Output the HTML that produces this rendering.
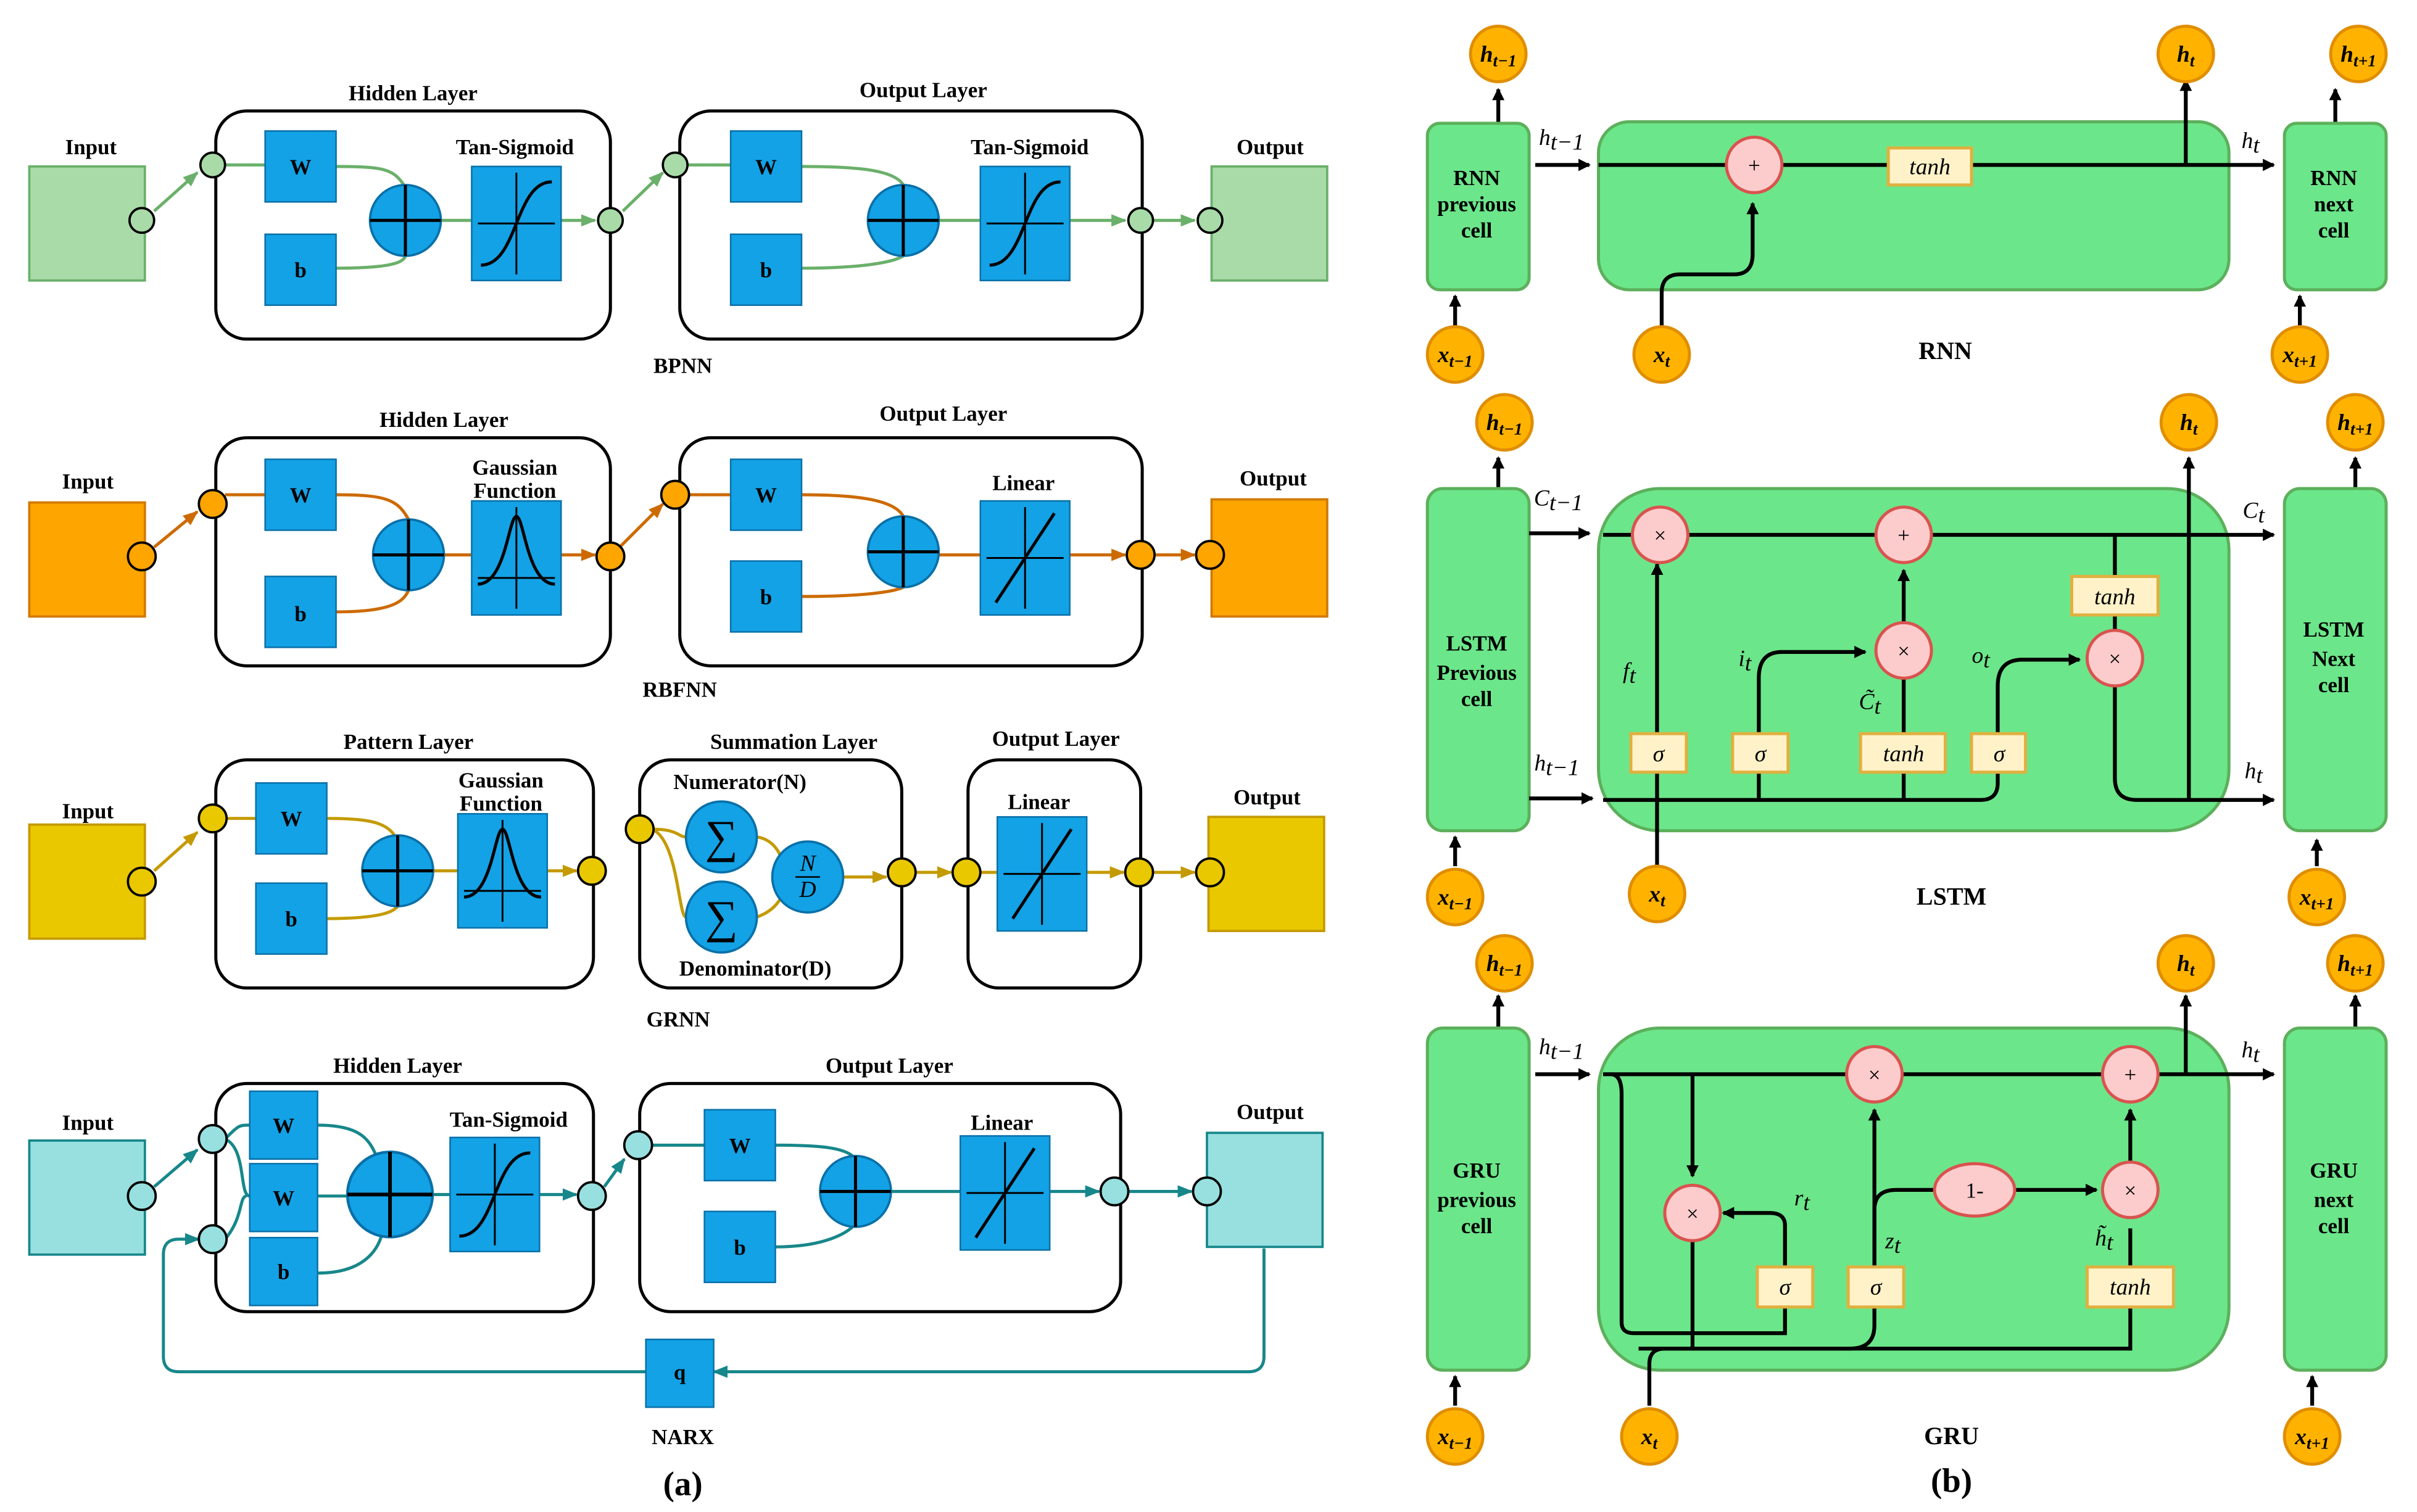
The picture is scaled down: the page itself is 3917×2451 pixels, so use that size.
<!DOCTYPE html>
<html><head><meta charset="utf-8"><style>
html,body{margin:0;padding:0;background:#fff;}
svg{display:block;}
text{font-family:"Liberation Serif",serif;}
.b{font-weight:bold;font-size:14px;text-anchor:middle;}
.m{font-style:italic;font-size:15px;text-anchor:middle;}
.c{font-style:italic;font-weight:bold;font-size:15px;text-anchor:middle;}
.s{font-size:11px;}
</style></head><body>
<svg width="3917" height="2451" viewBox="0 0 1568 981" preserveAspectRatio="none" xmlns="http://www.w3.org/2000/svg">
<defs>
<marker id="k" markerWidth="8" markerHeight="8" refX="7" refY="4" orient="auto" markerUnits="userSpaceOnUse"><path d="M0,0 L8,4 L0,8 z" fill="#000"/></marker>
<marker id="g" markerWidth="10" markerHeight="8" refX="9" refY="4" orient="auto" markerUnits="userSpaceOnUse"><path d="M0,0 L10,4 L0,8 z" fill="#6ab06a"/></marker>
<marker id="o" markerWidth="10" markerHeight="8" refX="9" refY="4" orient="auto" markerUnits="userSpaceOnUse"><path d="M0,0 L10,4 L0,8 z" fill="#cc6a00"/></marker>
<marker id="y" markerWidth="10" markerHeight="8" refX="9" refY="4" orient="auto" markerUnits="userSpaceOnUse"><path d="M0,0 L10,4 L0,8 z" fill="#c49a00"/></marker>
<marker id="t" markerWidth="10" markerHeight="8" refX="9" refY="4" orient="auto" markerUnits="userSpaceOnUse"><path d="M0,0 L10,4 L0,8 z" fill="#17878a"/></marker>
<g id="sig"><rect x="0" y="0" width="58" height="74" fill="#13a2e6" stroke="#0a70a8"/><path d="M29,4V70M4,37H54" stroke="#000" stroke-width="1.2"/><path d="M6,64 C30,64 28,10 52,10" fill="none" stroke="#000" stroke-width="2"/></g>
<g id="gau"><rect x="0" y="0" width="58" height="74" fill="#13a2e6" stroke="#0a70a8"/><path d="M29,4V70M4,50H54" stroke="#000" stroke-width="1.2"/><path d="M4,54 C22,54 24,10 29,10 C34,10 36,54 54,54" fill="none" stroke="#000" stroke-width="2"/></g>
<g id="lin"><rect x="0" y="0" width="58" height="74" fill="#13a2e6" stroke="#0a70a8"/><path d="M29,4V70M4,37H54" stroke="#000" stroke-width="1.2"/><path d="M10,66 L48,8" fill="none" stroke="#000" stroke-width="2"/></g>
<g id="sum"><circle r="23" fill="#13a2e6" stroke="#0a70a8" stroke-width="1.5"/><path d="M-23,0H23M0,-23V23" stroke="#000" stroke-width="2"/></g>
<rect id="sq" width="46" height="46" fill="#13a2e6" stroke="#0a70a8"/>
</defs>

<!-- ================= BPNN ================= -->
<g fill="none" stroke="#6ab06a" stroke-width="2">
<path d="M100,137 L128,112" marker-end="url(#g)"/>
<path d="M146,107 H218 M218,108 C250,108 255,110 262,120"/>
<path d="M218,174 C255,174 262,170 263,166"/>
<path d="M286,143 H306 M364,143 H386" marker-end="url(#g)"/>
<path d="M404,137 L430,112" marker-end="url(#g)"/>
<path d="M446,107 H474 M520,108 C555,108 580,110 586,120"/>
<path d="M520,174 C560,174 580,170 586,166"/>
<path d="M609,143 H636 M694,143 H730" marker-end="url(#g)"/>
<path d="M748,143 H775" marker-end="url(#g)"/>
</g>
<rect x="19" y="108" width="75" height="74" fill="#a8dba8" stroke="#6ab06a" stroke-width="1.5"/>
<rect x="140" y="72" width="256" height="148" rx="20" fill="none" stroke="#000" stroke-width="2"/>
<rect x="441" y="72" width="300" height="148" rx="20" fill="none" stroke="#000" stroke-width="2"/>
<use href="#sq" x="172" y="85"/><use href="#sq" x="172" y="152"/>
<use href="#sum" x="263" y="143"/><use href="#sig" x="306" y="108"/>
<use href="#sq" x="474" y="85"/><use href="#sq" x="474" y="152"/>
<use href="#sum" x="586" y="143"/><use href="#sig" x="636" y="108"/>
<rect x="786" y="108" width="75" height="74" fill="#a8dba8" stroke="#6ab06a" stroke-width="1.5"/>
<g fill="#a8dba8" stroke="#000" stroke-width="1.5"><circle cx="92" cy="143" r="8"/><circle cx="138" cy="107" r="8"/><circle cx="396" cy="143" r="8"/><circle cx="438" cy="107" r="8"/><circle cx="740" cy="143" r="8"/><circle cx="785" cy="143" r="8"/></g>
<g class="b"><text x="59" y="100">Input</text><text x="268" y="65">Hidden Layer</text><text x="599" y="63">Output Layer</text><text x="334" y="100">Tan-Sigmoid</text><text x="668" y="100">Tan-Sigmoid</text><text x="824" y="100">Output</text><text x="195" y="113">W</text><text x="195" y="180">b</text><text x="497" y="113">W</text><text x="497" y="180">b</text><text x="443" y="242">BPNN</text></g>

<!-- ================= RBFNN ================= -->
<g fill="none" stroke="#cc6a00" stroke-width="2">
<path d="M100,355 L128,332" marker-end="url(#o)"/>
<path d="M146,321 H172 M218,321 C250,321 258,324 265,337"/>
<path d="M218,397 C255,397 262,390 265,383"/>
<path d="M288,360 H306 M364,360 H386" marker-end="url(#o)"/>
<path d="M402,355 L430,327" marker-end="url(#o)"/>
<path d="M446,321 H474 M520,321 C555,321 580,324 586,335"/>
<path d="M520,387 C560,387 580,384 586,381"/>
<path d="M609,360 H636 M694,360 H730" marker-end="url(#o)"/>
<path d="M748,360 H775" marker-end="url(#o)"/>
</g>
<rect x="19" y="326" width="75" height="74" fill="#ffa500" stroke="#d07a00" stroke-width="1.5"/>
<rect x="140" y="284" width="256" height="148" rx="20" fill="none" stroke="#000" stroke-width="2"/>
<rect x="441" y="284" width="300" height="148" rx="20" fill="none" stroke="#000" stroke-width="2"/>
<use href="#sq" x="172" y="298"/><use href="#sq" x="172" y="374"/>
<use href="#sum" x="265" y="360"/><use href="#gau" x="306" y="325"/>
<use href="#sq" x="474" y="298"/><use href="#sq" x="474" y="364"/>
<use href="#sum" x="586" y="358"/><use href="#lin" x="636" y="325"/>
<rect x="786" y="324" width="75" height="76" fill="#ffa500" stroke="#d07a00" stroke-width="1.5"/>
<g fill="#ffa500" stroke="#000" stroke-width="1.5"><circle cx="92" cy="361" r="9"/><circle cx="138" cy="327" r="9"/><circle cx="396" cy="361" r="9"/><circle cx="438" cy="321" r="9"/><circle cx="740" cy="360" r="9"/><circle cx="785" cy="360" r="9"/></g>
<g class="b"><text x="57" y="317">Input</text><text x="288" y="277">Hidden Layer</text><text x="612" y="273">Output Layer</text><text x="334" y="308">Gaussian</text><text x="334" y="323">Function</text><text x="664" y="318">Linear</text><text x="826" y="315">Output</text><text x="195" y="326">W</text><text x="195" y="403">b</text><text x="497" y="326">W</text><text x="497" y="392">b</text><text x="441" y="452">RBFNN</text></g>

<!-- ================= GRNN ================= -->
<g fill="none" stroke="#c49a00" stroke-width="2">
<path d="M100,565 L128,540" marker-end="url(#y)"/>
<path d="M146,531 H166 M212,531 C245,531 252,535 258,545"/>
<path d="M212,596 C245,596 255,592 258,588"/>
<path d="M281,565 H297 M353,565 H374" marker-end="url(#y)"/>
<path d="M423,538 C440,538 440,543 445,543 M423,538 C440,545 440,595 445,595"/>
<path d="M491,543 C505,545 508,560 508,560 M491,595 C505,590 508,580 508,578"/>
<path d="M547,569 H575" marker-end="url(#y)"/>
<path d="M593,566 H617" marker-end="url(#y)"/>
<path d="M635,566 H647 M703,566 H729" marker-end="url(#y)"/>
<path d="M747,566 H775" marker-end="url(#y)"/>
</g>
<rect x="19" y="535" width="75" height="74" fill="#e9c800" stroke="#c49a00" stroke-width="1.5"/>
<rect x="140" y="493" width="245" height="148" rx="20" fill="none" stroke="#000" stroke-width="2"/>
<rect x="415" y="493" width="170" height="148" rx="20" fill="none" stroke="#000" stroke-width="2"/>
<rect x="628" y="493" width="112" height="148" rx="20" fill="none" stroke="#000" stroke-width="2"/>
<use href="#sq" x="166" y="508"/><use href="#sq" x="166" y="573"/>
<use href="#sum" x="258" y="565"/><use href="#gau" x="297" y="528"/>
<use href="#lin" x="647" y="530"/>
<g fill="#13a2e6" stroke="#0a70a8" stroke-width="1.5"><circle cx="468" cy="543" r="23"/><circle cx="468" cy="595" r="23"/><circle cx="524" cy="569" r="23"/></g>
<text x="468" y="553" font-size="30" text-anchor="middle">∑</text><text x="468" y="605" font-size="30" text-anchor="middle">∑</text>
<text x="524" y="565" class="m" font-size="12">N</text><path d="M516,569H532" stroke="#000"/><text x="524" y="582" class="m" font-size="12">D</text>
<rect x="784" y="530" width="75" height="74" fill="#e9c800" stroke="#c49a00" stroke-width="1.5"/>
<g fill="#e9c800" stroke="#000" stroke-width="1.5"><circle cx="92" cy="572" r="9"/><circle cx="138" cy="531" r="9"/><circle cx="384" cy="565" r="9"/><circle cx="415" cy="538" r="9"/><circle cx="585" cy="566" r="9"/><circle cx="627" cy="566" r="9"/><circle cx="739" cy="566" r="9"/><circle cx="785" cy="566" r="9"/></g>
<g class="b"><text x="57" y="531">Input</text><text x="265" y="486">Pattern Layer</text><text x="515" y="486">Summation Layer</text><text x="685" y="484">Output Layer</text><text x="325" y="511">Gaussian</text><text x="325" y="526">Function</text><text x="480" y="512">Numerator(N)</text><text x="490" y="633">Denominator(D)</text><text x="674" y="525">Linear</text><text x="822" y="522">Output</text><text x="189" y="536">W</text><text x="189" y="601">b</text><text x="440" y="666">GRNN</text></g>

<!-- ================= NARX ================= -->
<g fill="none" stroke="#17878a" stroke-width="2">
<path d="M100,770 L128,746" marker-end="url(#t)"/>
<path d="M146,739 C155,730 155,730 162,730 M146,739 C160,745 155,776 162,776"/>
<path d="M146,804 C158,790 155,776 160,776"/>
<path d="M206,730 C235,730 240,740 245,752 M206,776 H225 M206,826 C235,826 245,812 248,800"/>
<path d="M281,775 H292 M350,775 H374" marker-end="url(#t)"/>
<path d="M392,770 L405,752" marker-end="url(#t)"/>
<path d="M422,743 H457 M503,743 C535,743 550,745 555,752"/>
<path d="M503,809 C535,809 550,800 555,794"/>
<path d="M578,773 H623 M681,773 H713" marker-end="url(#t)"/>
<path d="M731,773 H773" marker-end="url(#t)"/>
<path d="M820,810 V880 Q820,890 810,890 H463" marker-end="url(#t)"/>
<path d="M419,890 H116 Q106,890 106,880 V814 Q106,804 116,804 H129" marker-end="url(#t)"/>
</g>
<rect x="19" y="740" width="75" height="74" fill="#98e0e0" stroke="#17878a" stroke-width="1.5"/>
<rect x="140" y="703" width="245" height="148" rx="20" fill="none" stroke="#000" stroke-width="2"/>
<rect x="415" y="703" width="312" height="148" rx="20" fill="none" stroke="#000" stroke-width="2"/>
<rect x="162" y="708" width="44" height="44" fill="#13a2e6" stroke="#0a70a8"/>
<rect x="162" y="755" width="44" height="44" fill="#13a2e6" stroke="#0a70a8"/>
<rect x="162" y="803" width="44" height="44" fill="#13a2e6" stroke="#0a70a8"/>
<g transform="translate(253,775) scale(1.2)"><use href="#sum"/></g>
<use href="#sig" x="292" y="738"/>
<use href="#sq" x="457" y="720"/><use href="#sq" x="457" y="786"/>
<use href="#sum" x="555" y="773"/><use href="#lin" x="623" y="737"/>
<rect x="783" y="735" width="75" height="74" fill="#98e0e0" stroke="#17878a" stroke-width="1.5"/>
<rect x="419" y="869" width="44" height="44" fill="#13a2e6" stroke="#0a70a8"/>
<g fill="#98e0e0" stroke="#000" stroke-width="1.5"><circle cx="92" cy="776" r="9"/><circle cx="138" cy="739" r="9"/><circle cx="138" cy="804" r="9"/><circle cx="384" cy="776" r="9"/><circle cx="414" cy="743" r="9"/><circle cx="723" cy="773" r="9"/><circle cx="783" cy="773" r="9"/></g>
<g class="b"><text x="57" y="733">Input</text><text x="258" y="696">Hidden Layer</text><text x="577" y="696">Output Layer</text><text x="330" y="731">Tan-Sigmoid</text><text x="650" y="733">Linear</text><text x="824" y="726">Output</text><text x="184" y="735">W</text><text x="184" y="782">W</text><text x="184" y="830">b</text><text x="480" y="748">W</text><text x="480" y="814">b</text><text x="441" y="895">q</text><text x="443" y="937">NARX</text><text x="443" y="970" font-size="22">(a)</text></g>

<!-- ================= Right (b) ================= -->
<g stroke="#000" stroke-width="2.5" fill="none">
<path d="M972,80 V58" marker-end="url(#k)"/><path d="M944,212 V192" marker-end="url(#k)"/>
<path d="M1515,80 V58" marker-end="url(#k)"/><path d="M1492,212 V192" marker-end="url(#k)"/>
<path d="M972,317 V297" marker-end="url(#k)"/><path d="M944,562 V543" marker-end="url(#k)"/>
<path d="M1528,317 V297" marker-end="url(#k)"/><path d="M1503,562 V545" marker-end="url(#k)"/>
<path d="M972,667 V646" marker-end="url(#k)"/><path d="M944,912 V893" marker-end="url(#k)"/>
<path d="M1528,667 V646" marker-end="url(#k)"/><path d="M1500,912 V893" marker-end="url(#k)"/>
</g>
<g fill="#6ce68a" stroke="#5cb05c" stroke-width="2">
<rect x="926" y="80" width="66" height="108" rx="8"/><rect x="1037" y="79" width="409" height="109" rx="20"/><rect x="1482" y="80" width="66" height="108" rx="8"/>
<rect x="926" y="317" width="66" height="222" rx="10"/><rect x="1037" y="317" width="409" height="222" rx="40"/><rect x="1482" y="317" width="66" height="222" rx="10"/>
<rect x="926" y="667" width="66" height="222" rx="10"/><rect x="1037" y="667" width="409" height="222" rx="40"/><rect x="1482" y="667" width="66" height="222" rx="10"/>
</g>
<g stroke="#000" stroke-width="2.5" fill="none">
<path d="M996,107 H1031" marker-end="url(#k)"/>
<path d="M1037,107 H1475" marker-end="url(#k)"/>
<path d="M1418,107 V52" marker-end="url(#k)"/>
<path d="M1078,212 V190 Q1078,178 1090,178 H1125 Q1137,178 1137,165 V132" marker-end="url(#k)"/>
<path d="M992,346 H1031" marker-end="url(#k)"/>
<path d="M1040,347 H1475" marker-end="url(#k)"/>
<path d="M992,518 H1033" marker-end="url(#k)"/>
<path d="M1040,519 H1285 Q1296,519 1296,508 V500"/>
<path d="M1075,562 V366" marker-end="url(#k)"/>
<path d="M1141,519 V440 Q1141,423 1156,423 H1210" marker-end="url(#k)"/>
<path d="M1235,519 V440 M1235,405 V370" marker-end="url(#k)"/>
<path d="M1296,476 V445 Q1296,428 1312,428 H1349" marker-end="url(#k)"/>
<path d="M1372,347 V374 M1372,398 V409 M1372,445 V505 Q1372,519 1386,519 H1475" marker-end="url(#k)"/>
<path d="M1420,519 V297" marker-end="url(#k)"/>
<path d="M996,697 H1031" marker-end="url(#k)"/>
<path d="M1040,697 H1475" marker-end="url(#k)"/>
<path d="M1418,697 V646" marker-end="url(#k)"/>
<path d="M1098,697 V763" marker-end="url(#k)"/>
<path d="M1098,805 V875 M1045,697 Q1052,697 1052,710 V858 Q1052,865 1060,865 H1158 V848 M1158,822 V795 Q1158,787 1148,787 H1118" marker-end="url(#k)"/>
<path d="M1216,848 V720" marker-end="url(#k)"/>
<path d="M1216,822 V785 Q1216,772 1230,772 H1256"/>
<path d="M1307,772 H1360" marker-end="url(#k)"/>
<path d="M1382,822 V797 M1382,753 V720" marker-end="url(#k)"/>
<path d="M1070,912 V885 Q1070,875 1080,875 H1382 V848"/>
<path d="M1063,875 H1200 Q1216,875 1216,860 V848"/>
</g>
<g fill="#fff2c8" stroke="#e0b040" stroke-width="2">
<rect x="1225" y="96" width="54" height="24"/>
<rect x="1058" y="476" width="36" height="25"/><rect x="1124" y="476" width="36" height="25"/><rect x="1207" y="476" width="55" height="25"/><rect x="1279" y="476" width="35" height="25"/><rect x="1344" y="374" width="56" height="25"/>
<rect x="1140" y="822" width="36" height="26"/><rect x="1199" y="822" width="36" height="26"/><rect x="1354" y="822" width="56" height="26"/>
</g>
<g class="m"><text x="1252" y="113">tanh</text><text x="1076" y="494">σ</text><text x="1142" y="494">σ</text><text x="1235" y="494">tanh</text><text x="1297" y="494">σ</text><text x="1372" y="392">tanh</text><text x="1158" y="840">σ</text><text x="1217" y="840">σ</text><text x="1382" y="840">tanh</text></g>
<g fill="#fccccc" stroke="#d9534f" stroke-width="2">
<circle cx="1138" cy="107" r="18"/>
<circle cx="1077" cy="347" r="18"/><circle cx="1235" cy="347" r="18"/><circle cx="1235" cy="422" r="18"/><circle cx="1372" cy="427" r="18"/>
<circle cx="1216" cy="697" r="18"/><circle cx="1382" cy="697" r="18"/><circle cx="1098" cy="787" r="18"/><circle cx="1382" cy="772" r="18"/>
<ellipse cx="1281" cy="772" rx="26" ry="17"/>
</g>
<g font-size="14" text-anchor="middle" font-family="Liberation Sans,sans-serif"><text x="1138" y="112">+</text><text x="1077" y="352">×</text><text x="1235" y="352">+</text><text x="1235" y="427">×</text><text x="1372" y="432">×</text><text x="1216" y="702">×</text><text x="1382" y="702">+</text><text x="1098" y="792">×</text><text x="1382" y="777">×</text><text x="1281" y="777">1-</text></g>
<g fill="#ffb300" stroke="#e08e00" stroke-width="2">
<circle cx="972" cy="35" r="18"/><circle cx="944" cy="230" r="18"/><circle cx="1078" cy="230" r="18"/><circle cx="1418" cy="35" r="18"/><circle cx="1530" cy="35" r="18"/><circle cx="1492" cy="230" r="18"/>
<circle cx="976" cy="274" r="18"/><circle cx="944" cy="582" r="18"/><circle cx="1075" cy="580" r="18"/><circle cx="1420" cy="274" r="18"/><circle cx="1528" cy="274" r="18"/><circle cx="1503" cy="582" r="18"/>
<circle cx="976" cy="625" r="18"/><circle cx="944" cy="932" r="18"/><circle cx="1070" cy="932" r="18"/><circle cx="1418" cy="625" r="18"/><circle cx="1528" cy="625" r="18"/><circle cx="1500" cy="932" r="18"/>
</g>
<g class="c">
<text x="972" y="40">h<tspan class="s" dy="3">t−1</tspan></text><text x="944" y="235">x<tspan class="s" dy="3">t−1</tspan></text><text x="1078" y="235">x<tspan class="s" dy="3">t</tspan></text><text x="1418" y="40">h<tspan class="s" dy="3">t</tspan></text><text x="1530" y="40">h<tspan class="s" dy="3">t+1</tspan></text><text x="1492" y="235">x<tspan class="s" dy="3">t+1</tspan></text>
<text x="976" y="279">h<tspan class="s" dy="3">t−1</tspan></text><text x="944" y="587">x<tspan class="s" dy="3">t−1</tspan></text><text x="1075" y="585">x<tspan class="s" dy="3">t</tspan></text><text x="1420" y="279">h<tspan class="s" dy="3">t</tspan></text><text x="1528" y="279">h<tspan class="s" dy="3">t+1</tspan></text><text x="1503" y="587">x<tspan class="s" dy="3">t+1</tspan></text>
<text x="976" y="630">h<tspan class="s" dy="3">t−1</tspan></text><text x="944" y="937">x<tspan class="s" dy="3">t−1</tspan></text><text x="1070" y="937">x<tspan class="s" dy="3">t</tspan></text><text x="1418" y="630">h<tspan class="s" dy="3">t</tspan></text><text x="1528" y="630">h<tspan class="s" dy="3">t+1</tspan></text><text x="1500" y="937">x<tspan class="s" dy="3">t+1</tspan></text>
</g>
<g class="m">
<text x="1013" y="94">h<tspan dy="3">t−1</tspan></text><text x="1460" y="96">h<tspan dy="3">t</tspan></text>
<text x="1011" y="328">C<tspan dy="3">t−1</tspan></text><text x="1462" y="336">C<tspan dy="3">t</tspan></text>
<text x="1057" y="440">f<tspan dy="3">t</tspan></text><text x="1132" y="432">i<tspan dy="3">t</tspan></text><text x="1213" y="460">C̃<tspan dy="3">t</tspan></text><text x="1285" y="430">o<tspan dy="3">t</tspan></text>
<text x="1010" y="500">h<tspan dy="3">t−1</tspan></text><text x="1462" y="505">h<tspan dy="3">t</tspan></text>
<text x="1013" y="684">h<tspan dy="3">t−1</tspan></text><text x="1460" y="686">h<tspan dy="3">t</tspan></text>
<text x="1169" y="782">r<tspan dy="3">t</tspan></text><text x="1228" y="810">z<tspan dy="3">t</tspan></text><text x="1365" y="808">h̃<tspan dy="3">t</tspan></text>
</g>
<g class="b">
<text x="958" y="120">RNN</text><text x="958" y="137">previous</text><text x="958" y="154">cell</text>
<text x="1514" y="120">RNN</text><text x="1514" y="137">next</text><text x="1514" y="154">cell</text>
<text x="1262" y="233" font-size="16">RNN</text>
<text x="958" y="422">LSTM</text><text x="958" y="441">Previous</text><text x="958" y="458">cell</text>
<text x="1514" y="413">LSTM</text><text x="1514" y="432">Next</text><text x="1514" y="449">cell</text>
<text x="1266" y="587" font-size="16">LSTM</text>
<text x="958" y="764">GRU</text><text x="958" y="783">previous</text><text x="958" y="800">cell</text>
<text x="1514" y="764">GRU</text><text x="1514" y="783">next</text><text x="1514" y="800">cell</text>
<text x="1266" y="937" font-size="16">GRU</text>
<text x="1266" y="968" font-size="22">(b)</text>
</g>
</svg>
</body></html>
